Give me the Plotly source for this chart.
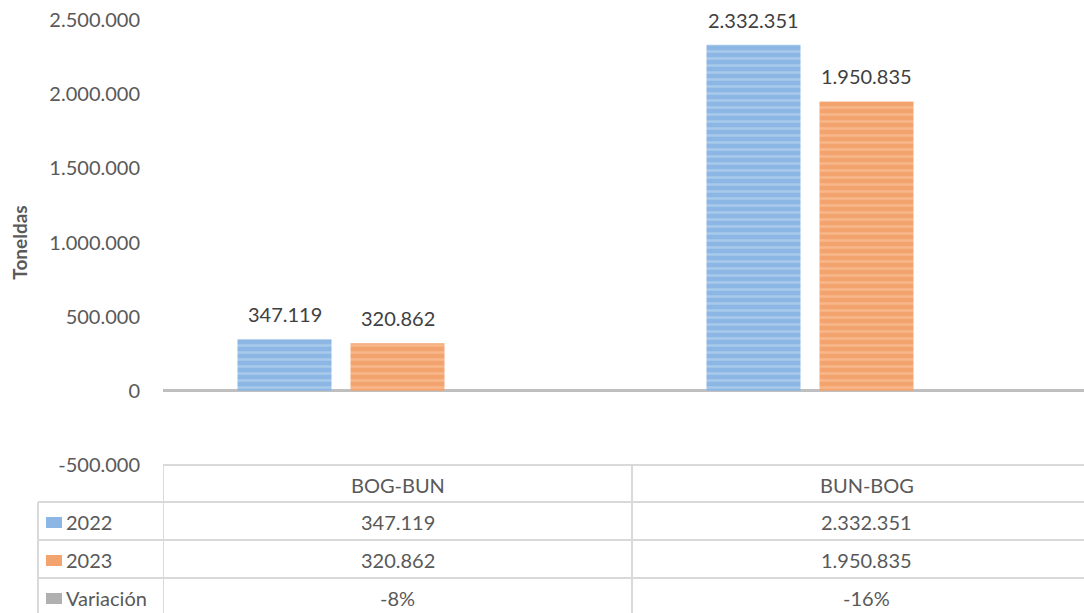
import plotly.graph_objects as go

categories = ["BOG-BUN", "BUN-BOG"]
series_names = ["2022", "2023", "Variación"]
values_2022 = [347119, 2332351]
values_2023 = [320862, 1950835]
variacion = [-0.08, -0.16]
y_ticks = [-500000, 0, 500000, 1000000, 1500000, 2000000, 2500000]

def fmt(v):
    s = f"{abs(int(round(v))):,}".replace(",", ".")
    return ("-" if v < 0 else "") + s

def pct(v):
    return f"{round(v*100):.0f}%"

W, H = 1084, 613
L, T, B = 163, 20, 148
plot_w = W - L
cat_px = 469.0
x0 = -0.5
x1 = x0 + plot_w / cat_px

FONT = "Lato, 'Open Sans', sans-serif"
TXT = "#595959"

colors = ["#8cb6e3", "#f3a46e", "#b0b0b0"]
stripes = ["#c6dcf4", "#fbcaa8", "#d8d8d8"]
xs = list(range(len(categories)))

bar_w = 94 / cat_px
slot = 113 / cat_px
offsets = [-slot - bar_w / 2, -bar_w / 2, slot - bar_w / 2]

fig = go.Figure()
all_vals = [values_2022, values_2023, variacion]
annotations = []
for i, (name, vals) in enumerate(zip(series_names, all_vals)):
    fig.add_trace(go.Bar(
        x=xs, y=vals, name=name, width=bar_w, offset=offsets[i],
        marker=dict(color=colors[i], line=dict(width=0),
                    pattern=dict(shape="-", fgcolor=stripes[i], size=7, solidity=0.35)),
        showlegend=False, hoverinfo="y",
    ))
    if i < 2:
        for j, v in enumerate(vals):
            annotations.append(dict(x=xs[j] + offsets[i] + bar_w / 2, y=v, xref="x", yref="y",
                                    text=fmt(v), showarrow=False, xanchor="center",
                                    yanchor="middle", yshift=25,
                                    font=dict(family=FONT, size=20, color="#404040")))

fig.update_layout(
    width=W, height=H, margin=dict(l=L, r=0, t=T, b=B),
    paper_bgcolor="white", plot_bgcolor="white",
    barmode="overlay", showlegend=False,
    font=dict(family=FONT, color=TXT),
    xaxis=dict(range=[x0, x1], showticklabels=False, showgrid=False, zeroline=False,
               showline=False, ticks=""),
    yaxis=dict(range=[y_ticks[0], y_ticks[-1]], tickvals=y_ticks,
               ticktext=[fmt(v) for v in y_ticks], showgrid=False,
               zeroline=True, zerolinecolor="#bfbfbf", zerolinewidth=3,
               showline=False, ticks="", ticklabelstandoff=22,
               tickfont=dict(family=FONT, size=20, color=TXT),
               title=dict(text="<b>Toneldas</b>", standoff=16,
                          font=dict(family=FONT, size=19, color=TXT))),
)

def py(p):  # pixel y -> paper y
    return (H - B - p) / (H - T - B)

def px(p):  # pixel x -> paper x
    return (p - L) / plot_w

line = dict(color="#d9d9d9", width=2)
row_y = [465, 502, 540, 578, 616]
shapes = []
shapes.append(dict(type="line", xref="paper", yref="paper", x0=0, x1=1,
                   y0=py(row_y[0]), y1=py(row_y[0]), line=line))
for ry in row_y[1:4]:
    shapes.append(dict(type="line", xref="paper", yref="paper", x0=px(38), x1=1,
                       y0=py(ry), y1=py(ry), line=line))
shapes.append(dict(type="line", xref="paper", yref="paper", x0=px(38), x1=px(38),
                   y0=py(row_y[1]), y1=py(row_y[-1] + 5), line=line))
for xb in [x0, x0 + 1, x0 + 2]:
    shapes.append(dict(type="line", xref="x", yref="paper", x0=xb, x1=xb,
                       y0=py(row_y[0]), y1=py(row_y[-1] + 5), line=line))

rows = [
    [c for c in categories],
    [fmt(v) for v in values_2022],
    [fmt(v) for v in values_2023],
    [pct(v) for v in variacion],
]
for r, cells in enumerate(rows):
    yc = py((row_y[r] + row_y[r + 1]) / 2 + 1)
    for j, txt in enumerate(cells):
        annotations.append(dict(x=xs[j], y=yc, xref="x", yref="paper", text=txt,
                                showarrow=False, xanchor="center", yanchor="middle",
                                font=dict(family=FONT, size=20, color=TXT)))
for r, name in enumerate(series_names):
    yc_px = (row_y[r + 1] + row_y[r + 2]) / 2 + 1
    shapes.append(dict(type="rect", xref="paper", yref="paper",
                       x0=px(46), x1=px(62), y0=py(yc_px + 6), y1=py(yc_px - 5),
                       fillcolor=colors[r], line=dict(width=0)))
    annotations.append(dict(x=px(64), y=py(yc_px), xref="paper", yref="paper", text=name,
                            showarrow=False, xanchor="left", yanchor="middle",
                            font=dict(family=FONT, size=20, color=TXT)))

fig.update_layout(shapes=shapes, annotations=annotations)
fig.write_html("out.html", config={"displayModeBar": False},
               post_script="document.body.style.margin='0px';document.documentElement.style.margin='0px';")
